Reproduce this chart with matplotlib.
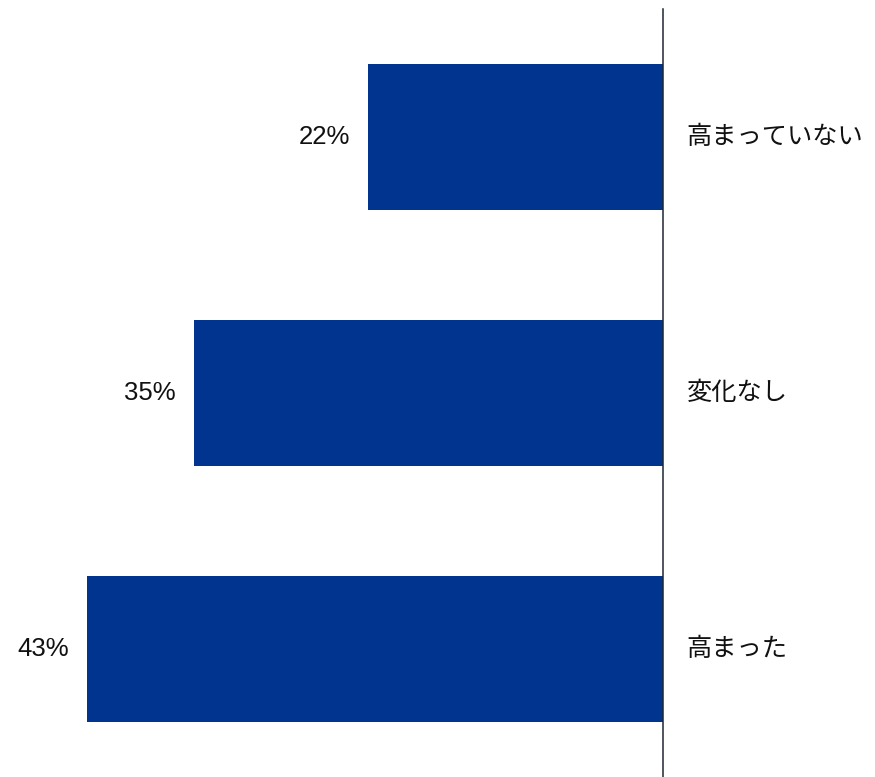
import matplotlib.pyplot as plt

plt.rcParams['font.family'] = ['Noto Sans CJK JP', 'DejaVu Sans']

# 回答の内訳 (%)
categories = ["高まった", "変化なし", "高まっていない"]
values = [43, 35, 22]

bar_color = "#00348F"

fig = plt.figure(figsize=(8.75, 7.77), dpi=100)
# 軸は右側の縦線だけを残し、棒は左へ伸ばす
ax = fig.add_axes([0, 0, 663 / 875, 768 / 777])

ypos = list(range(len(categories)))
ax.barh(ypos, values, height=0.574, color=bar_color)

ax.set_xlim(663 / 13.4, 0)
ax.set_ylim(-0.5, 2.5)

for y, v, c in zip(ypos, values, categories):
    ax.annotate(f"{v}%", xy=(v, y), xytext=(-13, 0), textcoords="offset points",
                ha="right", va="center", fontsize=18.5, family="Liberation Sans",
                color="#111111")
    ax.annotate(c, xy=(0, y), xytext=(17, 0), textcoords="offset points",
                ha="left", va="center", fontsize=18.2, color="#111111",
                annotation_clip=False)

for side in ["left", "top", "bottom"]:
    ax.spines[side].set_visible(False)
ax.spines["right"].set_color("#1c2636")
ax.spines["right"].set_linewidth(1.1)
ax.set_xticks([])
ax.set_yticks([])
ax.patch.set_visible(False)

fig.savefig("out.png", dpi=100)
